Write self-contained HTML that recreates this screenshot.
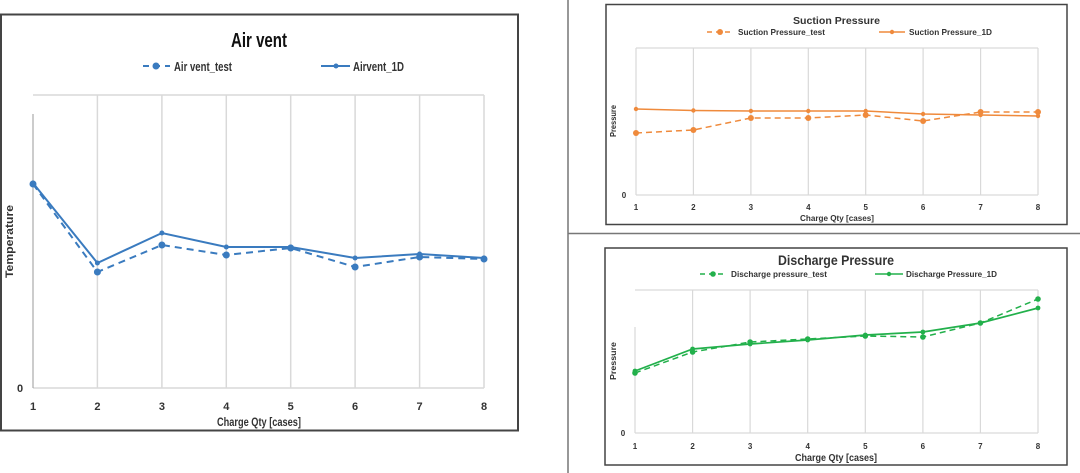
<!DOCTYPE html>
<html><head><meta charset="utf-8"><style>
html,body{margin:0;padding:0;background:#fff;}
svg{display:block;font-family:"Liberation Sans",sans-serif;}
</style></head><body>
<svg width="1080" height="473" viewBox="0 0 1080 473" xmlns="http://www.w3.org/2000/svg">
<rect width="1080" height="473" fill="#fff"/>
<line x1="568" y1="0" x2="568" y2="473" stroke="#777" stroke-width="1.5"/>
<line x1="568" y1="233.5" x2="1080" y2="233.5" stroke="#777" stroke-width="1.5"/>

<!-- LEFT CHART -->
<rect x="1" y="14.5" width="517" height="416" fill="#fff" stroke="#444" stroke-width="2"/>
<text x="231" y="47" font-size="20" font-weight="bold" fill="#111" textLength="56" lengthAdjust="spacingAndGlyphs">Air vent</text>
<g stroke="#3a7bbf" stroke-width="2">
<line x1="143" y1="66" x2="170" y2="66" stroke-dasharray="6,5"/>
<line x1="321" y1="66" x2="350" y2="66"/>
</g>
<circle cx="156" cy="66" r="3.5" fill="#3a7bbf"/>
<circle cx="336" cy="66" r="2.5" fill="#3a7bbf"/>
<text x="174" y="71" font-size="13" font-weight="bold" fill="#333" textLength="58" lengthAdjust="spacingAndGlyphs">Air vent_test</text>
<text x="353" y="71" font-size="13" font-weight="bold" fill="#333" textLength="51" lengthAdjust="spacingAndGlyphs">Airvent_1D</text>
<g stroke="#d9d9d9" stroke-width="1.5">
<line x1="33" y1="95" x2="484" y2="95"/>
<line x1="97.4" y1="95" x2="97.4" y2="388"/><line x1="161.9" y1="95" x2="161.9" y2="388"/>
<line x1="226.3" y1="95" x2="226.3" y2="388"/><line x1="290.7" y1="95" x2="290.7" y2="388"/>
<line x1="355.1" y1="95" x2="355.1" y2="388"/><line x1="419.6" y1="95" x2="419.6" y2="388"/>
<line x1="484" y1="95" x2="484" y2="388"/>
<line x1="33" y1="388" x2="484" y2="388"/>
</g>
<line x1="33" y1="114" x2="33" y2="388" stroke="#999" stroke-width="1"/>
<text x="20" y="392" font-size="11" font-weight="bold" fill="#333" text-anchor="middle">0</text>
<text transform="translate(13,278) rotate(-90)" font-size="11" font-weight="bold" fill="#333" textLength="73" lengthAdjust="spacingAndGlyphs">Temperature</text>
<g font-size="11" font-weight="bold" fill="#333" text-anchor="middle">
<text x="33" y="410">1</text><text x="97.4" y="410">2</text><text x="161.9" y="410">3</text><text x="226.3" y="410">4</text>
<text x="290.7" y="410">5</text><text x="355.1" y="410">6</text><text x="419.6" y="410">7</text><text x="484" y="410">8</text>
</g>
<text x="217" y="426" font-size="11.5" font-weight="bold" fill="#333" textLength="84" lengthAdjust="spacingAndGlyphs">Charge Qty [cases]</text>
<polyline fill="none" stroke="#3a7bbf" stroke-width="2" stroke-dasharray="7,5" points="33,184 97.4,272 161.9,245 226.3,255 290.7,248 355.1,267 419.6,257 484,259"/>
<polyline fill="none" stroke="#3a7bbf" stroke-width="2" points="33,183 97.4,263 161.9,233 226.3,247 290.7,247 355.1,258 419.6,254 484,258"/>
<g fill="#3a7bbf">
<circle cx="33" cy="184" r="3.5"/><circle cx="97.4" cy="272" r="3.5"/><circle cx="161.9" cy="245" r="3.5"/><circle cx="226.3" cy="255" r="3.5"/>
<circle cx="290.7" cy="248" r="3.5"/><circle cx="355.1" cy="267" r="3.5"/><circle cx="419.6" cy="257" r="3.5"/><circle cx="484" cy="259" r="3.5"/>
<circle cx="33" cy="183" r="2.5"/><circle cx="97.4" cy="263" r="2.5"/><circle cx="161.9" cy="233" r="2.5"/><circle cx="226.3" cy="247" r="2.5"/>
<circle cx="290.7" cy="247" r="2.5"/><circle cx="355.1" cy="258" r="2.5"/><circle cx="419.6" cy="254" r="2.5"/><circle cx="484" cy="258" r="2.5"/>
</g>

<!-- TOP RIGHT -->
<rect x="606" y="4.5" width="461" height="220" fill="#fff" stroke="#444" stroke-width="1.5"/>
<text x="793" y="24" font-size="10.5" font-weight="bold" fill="#333" textLength="87" lengthAdjust="spacingAndGlyphs">Suction Pressure</text>
<g stroke="#ef8a3c" stroke-width="1.5">
<line x1="707" y1="32" x2="731" y2="32" stroke-dasharray="5,4"/>
<line x1="879" y1="32" x2="905" y2="32"/>
</g>
<circle cx="720" cy="32" r="3" fill="#ef8a3c"/><circle cx="892" cy="32" r="2.2" fill="#ef8a3c"/>
<text x="738" y="35" font-size="8.5" font-weight="bold" fill="#333" textLength="87" lengthAdjust="spacingAndGlyphs">Suction Pressure_test</text>
<text x="909" y="35" font-size="8.5" font-weight="bold" fill="#333" textLength="83" lengthAdjust="spacingAndGlyphs">Suction Pressure_1D</text>
<g stroke="#d9d9d9" stroke-width="1.2">
<line x1="636" y1="48" x2="1038" y2="48"/>
<line x1="636" y1="48" x2="636" y2="195"/><line x1="693.4" y1="48" x2="693.4" y2="195"/><line x1="750.9" y1="48" x2="750.9" y2="195"/>
<line x1="808.3" y1="48" x2="808.3" y2="195"/><line x1="865.7" y1="48" x2="865.7" y2="195"/><line x1="923.1" y1="48" x2="923.1" y2="195"/>
<line x1="980.6" y1="48" x2="980.6" y2="195"/><line x1="1038" y1="48" x2="1038" y2="195"/>
<line x1="636" y1="195" x2="1038" y2="195"/>
</g>
<text x="624" y="198" font-size="8" font-weight="bold" fill="#333" text-anchor="middle">0</text>
<text transform="translate(616,137) rotate(-90)" font-size="8" font-weight="bold" fill="#333" textLength="32" lengthAdjust="spacingAndGlyphs">Pressure</text>
<g font-size="8" font-weight="bold" fill="#333" text-anchor="middle">
<text x="636" y="210">1</text><text x="693.4" y="210">2</text><text x="750.9" y="210">3</text><text x="808.3" y="210">4</text>
<text x="865.7" y="210">5</text><text x="923.1" y="210">6</text><text x="980.6" y="210">7</text><text x="1038" y="210">8</text>
</g>
<text x="800" y="221" font-size="8.5" font-weight="bold" fill="#333" textLength="74" lengthAdjust="spacingAndGlyphs">Charge Qty [cases]</text>
<polyline fill="none" stroke="#ef8a3c" stroke-width="1.5" stroke-dasharray="6,4" points="636,133 693.4,130 750.9,118 808.3,118 865.7,115 923.1,121 980.6,112 1038,112"/>
<polyline fill="none" stroke="#ef8a3c" stroke-width="1.5" points="636,109 693.4,110.5 750.9,111 808.3,111 865.7,111 923.1,114 980.6,115 1038,116"/>
<g fill="#ef8a3c">
<circle cx="636" cy="133" r="3"/><circle cx="693.4" cy="130" r="3"/><circle cx="750.9" cy="118" r="3"/><circle cx="808.3" cy="118" r="3"/>
<circle cx="865.7" cy="115" r="3"/><circle cx="923.1" cy="121" r="3"/><circle cx="980.6" cy="112" r="3"/><circle cx="1038" cy="112" r="3"/>
<circle cx="636" cy="109" r="2.2"/><circle cx="693.4" cy="110.5" r="2.2"/><circle cx="750.9" cy="111" r="2.2"/><circle cx="808.3" cy="111" r="2.2"/>
<circle cx="865.7" cy="111" r="2.2"/><circle cx="923.1" cy="114" r="2.2"/><circle cx="980.6" cy="115" r="2.2"/><circle cx="1038" cy="116" r="2.2"/>
</g>

<!-- BOTTOM RIGHT -->
<rect x="605" y="248" width="462" height="217" fill="#fff" stroke="#444" stroke-width="1.5"/>
<text x="778" y="265" font-size="14" font-weight="bold" fill="#333" textLength="116" lengthAdjust="spacingAndGlyphs">Discharge Pressure</text>
<g stroke="#22b04b" stroke-width="1.5">
<line x1="700" y1="274" x2="724" y2="274" stroke-dasharray="5,4"/>
<line x1="875" y1="274" x2="903" y2="274"/>
</g>
<circle cx="713" cy="274" r="2.8" fill="#22b04b"/><circle cx="889" cy="274" r="2.2" fill="#22b04b"/>
<text x="731" y="277" font-size="8.5" font-weight="bold" fill="#333" textLength="96" lengthAdjust="spacingAndGlyphs">Discharge pressure_test</text>
<text x="906" y="277" font-size="8.5" font-weight="bold" fill="#333" textLength="91" lengthAdjust="spacingAndGlyphs">Discharge Pressure_1D</text>
<g stroke="#d9d9d9" stroke-width="1.2">
<line x1="635" y1="290" x2="1038" y2="290"/>
<line x1="635" y1="327" x2="635" y2="433"/><line x1="692.6" y1="290" x2="692.6" y2="433"/><line x1="750.1" y1="290" x2="750.1" y2="433"/>
<line x1="807.7" y1="290" x2="807.7" y2="433"/><line x1="865.3" y1="290" x2="865.3" y2="433"/><line x1="922.9" y1="290" x2="922.9" y2="433"/>
<line x1="980.4" y1="290" x2="980.4" y2="433"/><line x1="1038" y1="290" x2="1038" y2="433"/>
<line x1="635" y1="433" x2="1038" y2="433"/>
</g>
<text x="623" y="436" font-size="8" font-weight="bold" fill="#333" text-anchor="middle">0</text>
<text transform="translate(616,380) rotate(-90)" font-size="8.5" font-weight="bold" fill="#333" textLength="38" lengthAdjust="spacingAndGlyphs">Pressure</text>
<g font-size="8" font-weight="bold" fill="#333" text-anchor="middle">
<text x="635" y="449">1</text><text x="692.6" y="449">2</text><text x="750.1" y="449">3</text><text x="807.7" y="449">4</text>
<text x="865.3" y="449">5</text><text x="922.9" y="449">6</text><text x="980.4" y="449">7</text><text x="1038" y="449">8</text>
</g>
<text x="795" y="461" font-size="10" font-weight="bold" fill="#333" textLength="82" lengthAdjust="spacingAndGlyphs">Charge Qty [cases]</text>
<polyline fill="none" stroke="#22b04b" stroke-width="1.5" stroke-dasharray="6,4" points="635,373 692.6,352 750.1,342 807.7,339 865.3,336 922.9,337 980.4,323 1038,299"/>
<polyline fill="none" stroke="#22b04b" stroke-width="1.7" points="635,371 692.6,349 750.1,344 807.7,340 865.3,335 922.9,332 980.4,323 1038,308"/>
<g fill="#22b04b">
<circle cx="635" cy="373" r="2.8"/><circle cx="692.6" cy="352" r="2.8"/><circle cx="750.1" cy="342" r="2.8"/><circle cx="807.7" cy="339" r="2.8"/>
<circle cx="865.3" cy="336" r="2.8"/><circle cx="922.9" cy="337" r="2.8"/><circle cx="980.4" cy="323" r="2.8"/><circle cx="1038" cy="299" r="2.8"/>
<circle cx="635" cy="371" r="2.4"/><circle cx="692.6" cy="349" r="2.4"/><circle cx="750.1" cy="344" r="2.4"/><circle cx="807.7" cy="340" r="2.4"/>
<circle cx="865.3" cy="335" r="2.4"/><circle cx="922.9" cy="332" r="2.4"/><circle cx="980.4" cy="323" r="2.4"/><circle cx="1038" cy="308" r="2.4"/>
</g>
</svg>
</body></html>
